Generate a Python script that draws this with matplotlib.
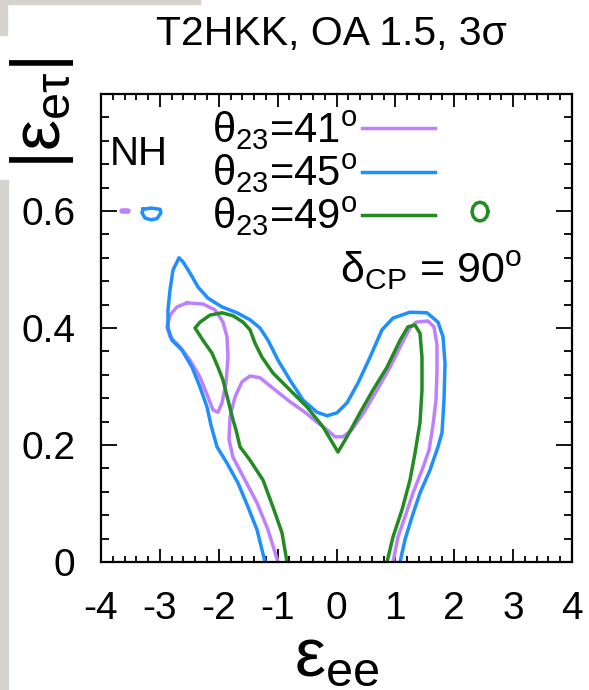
import numpy as np
import matplotlib.pyplot as plt
from matplotlib.patches import Rectangle
from matplotlib.ticker import MultipleLocator

plt.rcParams['font.family'] = ['Liberation Sans', 'DejaVu Sans']
plt.rcParams['mathtext.fontset'] = 'custom'
plt.rcParams['mathtext.rm'] = 'Liberation Sans'
plt.rcParams['mathtext.it'] = 'Liberation Sans:italic'
plt.rcParams['mathtext.bf'] = 'Liberation Sans:bold'
plt.rcParams['axes.unicode_minus'] = False
plt.rcParams['lines.solid_joinstyle'] = 'round'

# contours 3 sigma dans le plan (eps_ee, |eps_etau|), NH, dCP = 90
# theta23 = 45 : contour externe (ouvert en bas)
b45_x = [-1.214, -1.350, -1.503, -1.673, -1.860, -2.030, -2.132, -2.200, -2.318, -2.454,
         -2.624, -2.794, -2.862, -2.862, -2.828, -2.777, -2.675, -2.607, -2.488, -2.352,
         -2.183, -1.945, -1.690, -1.469, -1.299, -1.163, -0.994, -0.790, -0.569, -0.331,
         -0.161, 0.008, 0.178, 0.365, 0.569, 0.773, 0.960, 1.248, 1.537, 1.724,
         1.809, 1.843, 1.826, 1.792, 1.724, 1.588, 1.418, 1.282, 1.163, 1.079]
b45_y = [0.000, 0.055, 0.094, 0.135, 0.169, 0.197, 0.234, 0.265, 0.299, 0.333,
         0.362, 0.379, 0.400, 0.431, 0.465, 0.499, 0.520, 0.513, 0.494, 0.470,
         0.451, 0.436, 0.426, 0.414, 0.400, 0.379, 0.345, 0.311, 0.277, 0.256,
         0.250, 0.255, 0.272, 0.306, 0.350, 0.397, 0.417, 0.427, 0.426, 0.410,
         0.385, 0.340, 0.277, 0.221, 0.197, 0.157, 0.118, 0.077, 0.038, 0.000]
# petit ilot pres de 0.6
b45i_x = [-3.287, -3.151, -2.998, -2.981, -3.049, -3.151, -3.253, -3.304, -3.287]
b45i_y = [0.603, 0.605, 0.603, 0.597, 0.587, 0.585, 0.588, 0.597, 0.603]

# theta23 = 41 : branche en V + boucle a gauche
p41_x = [-0.994, -1.163, -1.350, -1.554, -1.758, -1.826, -1.809, -1.724, -1.605, -1.469,
         -1.299, -1.079, -0.790, -0.535, -0.331, -0.161, -0.025, 0.110, 0.263, 0.467,
         0.688, 0.909, 1.112, 1.248, 1.350, 1.554, 1.656, 1.707, 1.707, 1.690,
         1.639, 1.571, 1.452, 1.299, 1.163, 1.045, 0.960]
p41_y = [0.000, 0.055, 0.101, 0.140, 0.179, 0.209, 0.248, 0.282, 0.308, 0.318,
         0.315, 0.297, 0.274, 0.256, 0.239, 0.226, 0.214, 0.214, 0.226, 0.256,
         0.294, 0.333, 0.374, 0.400, 0.410, 0.412, 0.402, 0.371, 0.328, 0.277,
         0.234, 0.191, 0.157, 0.118, 0.077, 0.043, 0.000]
p41l_x = [-2.539, -2.709, -2.828, -2.879, -2.828, -2.658, -2.488, -2.318, -2.183, -2.098,
          -2.013, -1.945, -1.877, -1.843, -1.860, -1.928, -2.064, -2.268, -2.539]
p41l_y = [0.443, 0.436, 0.422, 0.402, 0.385, 0.368, 0.345, 0.316, 0.282, 0.260,
          0.256, 0.272, 0.306, 0.350, 0.385, 0.410, 0.431, 0.441, 0.443]
p41i_x = [-3.650, -3.534]
p41i_y = [0.600, 0.600]

# theta23 = 49
g49_x = [-0.841, -0.926, -1.079, -1.248, -1.469, -1.639, -1.707, -1.758, -1.843, -1.928,
         -2.013, -2.115, -2.268, -2.403, -2.318, -2.149, -1.945, -1.758, -1.588, -1.469,
         -1.384, -1.265, -1.079, -0.790, -0.501, -0.229, 0.025, 0.178, 0.399, 0.620,
         0.858, 1.079, 1.214, 1.333, 1.418, 1.452, 1.452, 1.418, 1.333, 1.248,
         1.112, 0.960, 0.858]
g49_y = [0.000, 0.050, 0.094, 0.140, 0.174, 0.197, 0.226, 0.243, 0.277, 0.311,
         0.333, 0.357, 0.379, 0.400, 0.410, 0.422, 0.426, 0.421, 0.410, 0.397,
         0.374, 0.350, 0.323, 0.294, 0.265, 0.231, 0.188, 0.214, 0.255, 0.294,
         0.333, 0.379, 0.402, 0.405, 0.391, 0.350, 0.294, 0.238, 0.186, 0.140,
         0.089, 0.043, 0.000]
g49i_x = [2.573, 2.555, 2.505, 2.437, 2.369, 2.320, 2.301, 2.320, 2.369, 2.437,
          2.505, 2.555, 2.573]
g49i_y = [0.599, 0.607, 0.613, 0.615, 0.613, 0.607, 0.599, 0.591, 0.585, 0.583,
          0.585, 0.591, 0.599]

col41 = '#bf80ff'
col45 = '#1e8fff'
col49 = '#228b22'
lw = 2.5

fig = plt.figure(figsize=(5.89, 6.90), dpi=100)
ax = fig.add_axes([101/589, 1 - 562/690, 471/589, 468/690])

# bandes grises sur le bord
fig.patches.append(Rectangle((0, 0), 8/589, 1 - 180/690, transform=fig.transFigure,
                             color='#d6d3cd', zorder=0))
fig.patches.append(Rectangle((0, 1 - 35/690), 7/589, 35/690, transform=fig.transFigure,
                             color='#d6d3cd', zorder=0))
fig.patches.append(Rectangle((0, 1 - 4/690), 200/589, 4/690, transform=fig.transFigure,
                             color='#d6d3cd', zorder=0))

l41, = ax.plot(p41_x, p41_y, color=col41, lw=lw, label=r'θ$_{23}$=41$^{\mathrm{o}}$')
ax.plot(p41l_x, p41l_y, color=col41, lw=lw)
ax.plot(p41i_x, p41i_y, color=col41, lw=4, solid_capstyle='round')
l45, = ax.plot(b45_x, b45_y, color=col45, lw=lw, label=r'θ$_{23}$=45$^{\mathrm{o}}$')
ax.plot(b45i_x, b45i_y, color=col45, lw=lw)
l49, = ax.plot(g49_x, g49_y, color=col49, lw=lw, label=r'θ$_{23}$=49$^{\mathrm{o}}$')
ax.plot(g49i_x, g49i_y, color=col49, lw=lw)

ax.set_xlim(-4, 4)
ax.set_ylim(0, 0.8)
ax.set_xticks(np.arange(-4, 5, 1))
ax.set_yticks([0, 0.2, 0.4, 0.6])
ax.set_yticklabels(['0', '0.2', '0.4', '0.6'])
ax.xaxis.set_minor_locator(MultipleLocator(0.2))
ax.yaxis.set_minor_locator(MultipleLocator(0.04))
ax.tick_params(axis='both', which='both', direction='in', top=True, right=True,
               width=1.3, labelsize=28)
ax.tick_params(axis='x', which='major', length=9.5, pad=21)
ax.tick_params(axis='x', which='minor', length=4.5)
ax.tick_params(axis='y', which='major', length=11.5, pad=18.5)
ax.tick_params(axis='y', which='minor', length=6)
for s in ax.spines.values():
    s.set_linewidth(1.6)

ax.set_xlabel(r'ε$_{\mathrm{ee}}$', fontsize=50, va='baseline')
ax.xaxis.set_label_coords(0.5, -0.243)
ax.set_ylabel(r'|ε$_{\mathrm{eτ}}$|', fontsize=50, va='baseline', ha='center',
              rotation=90, rotation_mode='anchor')
ax.yaxis.set_label_coords(-0.087, 0.958)

fig.text(331/589, 1 - 45/690, 'T2HKK, OA 1.5, 3σ', ha='center', va='baseline',
         fontsize=29.5)

ax.text(0.019, 0.848, 'NH', transform=ax.transAxes, fontsize=29, va='baseline')
ax.text(0.507, 0.596, r'δ$_{\mathrm{CP}}$ = 90$^{\mathrm{o}}$', transform=ax.transAxes,
        fontsize=31, va='baseline')

ax.legend(handles=[l41, l45, l49], loc='upper right', bbox_to_anchor=(0.709, 0.968),
          frameon=False, markerfirst=False, fontsize=30, handlelength=1.75,
          handletextpad=0.12, labelspacing=0.0, borderpad=0, borderaxespad=0)

fig.savefig('out.png', dpi=100)
